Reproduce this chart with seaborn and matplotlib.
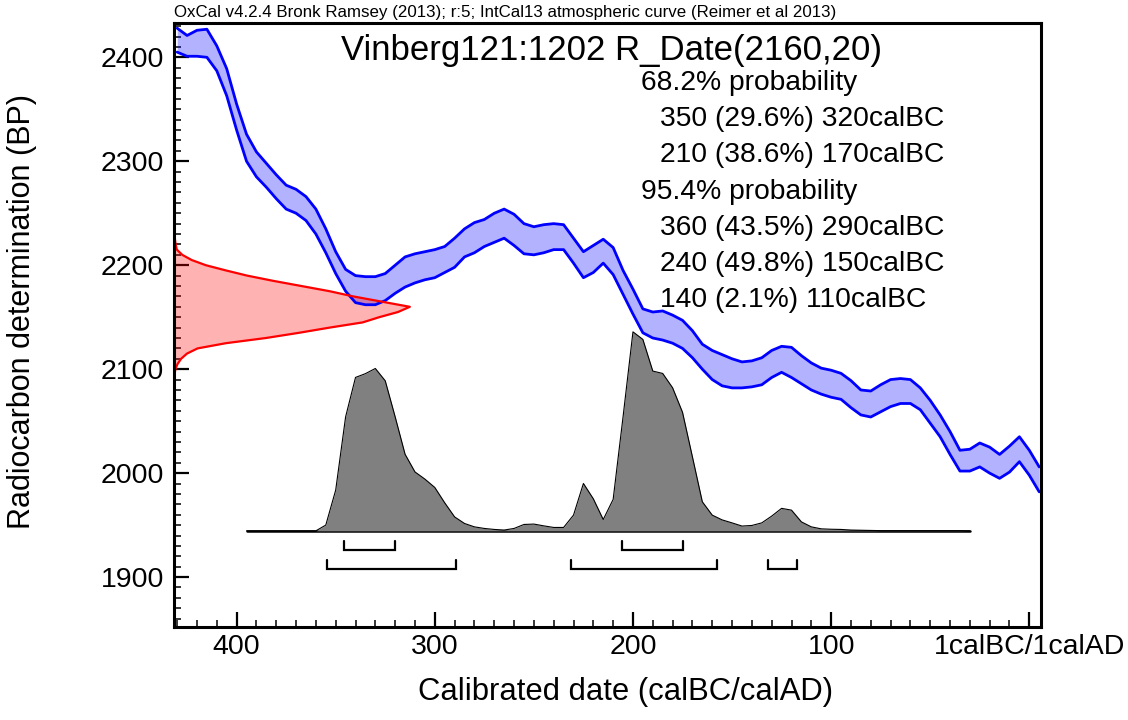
import matplotlib
matplotlib.use("Agg")
import matplotlib.pyplot as plt
from matplotlib.ticker import FixedLocator, MultipleLocator
import seaborn as sns
import pandas as pd

# IntCal13 curve, 1 sigma band (x in calBC years, y in BP)
curve_years = [430, 425, 420, 415, 410, 405, 400, 395, 390, 385, 380, 375, 370, 365, 360,
               355, 350, 345, 340, 335, 330, 325, 320, 315, 310, 305, 300, 295, 290, 285,
               280, 275, 270, 265, 260, 255, 250, 245, 240, 235, 230, 225, 220, 215, 210,
               205, 200, 195, 190, 185, 180, 175, 170, 165, 160, 155, 150, 145, 140, 135,
               130, 125, 120, 115, 110, 105, 100, 95, 90, 85, 80, 75, 70, 65, 60,
               55, 50, 45, 40, 35, 30, 25, 20, 15, 10, 5, 0, -5]
curve_upper = [2428, 2421, 2426, 2427, 2411, 2389, 2355, 2326, 2309, 2298, 2287, 2277, 2273, 2266, 2254,
               2235, 2213, 2196, 2190, 2189, 2189, 2192, 2200, 2208, 2211, 2213, 2215, 2218, 2226, 2235,
               2241, 2244, 2250, 2254, 2249, 2240, 2237, 2239, 2240, 2239, 2226, 2213, 2219, 2225, 2217,
               2195, 2177, 2158, 2155, 2156, 2152, 2147, 2137, 2124, 2118, 2114, 2110, 2107, 2108, 2111,
               2118, 2122, 2121, 2113, 2106, 2101, 2099, 2096, 2089, 2080, 2079, 2085, 2090, 2091, 2090,
               2082, 2070, 2056, 2040, 2022, 2023, 2029, 2025, 2018, 2026, 2035, 2022, 2006]
curve_lower = [2405, 2401, 2401, 2400, 2387, 2363, 2330, 2300, 2285, 2275, 2264, 2254, 2250, 2243, 2230,
               2212, 2192, 2175, 2164, 2162, 2162, 2166, 2173, 2179, 2183, 2186, 2188, 2193, 2198, 2208,
               2212, 2218, 2222, 2226, 2219, 2211, 2210, 2212, 2215, 2215, 2202, 2188, 2193, 2202, 2191,
               2172, 2153, 2135, 2130, 2128, 2125, 2120, 2111, 2100, 2090, 2084, 2082, 2082, 2083, 2085,
               2092, 2097, 2092, 2086, 2080, 2076, 2073, 2071, 2063, 2056, 2054, 2059, 2064, 2067, 2067,
               2061, 2048, 2035, 2018, 2002, 2002, 2006, 2000, 1995, 2001, 2011, 1998, 1982]

# radiocarbon measurement R_Date(2160,20), relative density
date_bp = [2236, 2230, 2225, 2220, 2215, 2210, 2205, 2200, 2195, 2190, 2185, 2180, 2175, 2170, 2165,
           2160, 2155, 2150, 2145, 2140, 2135, 2130, 2125, 2120, 2115, 2110, 2105, 2100, 2095, 2089]
date_density = [0, 0.002, 0.004, 0.007, 0.012, 0.035, 0.075, 0.135, 0.22, 0.31, 0.42, 0.54, 0.66, 0.76, 0.88,
                1.0, 0.95, 0.87, 0.8, 0.66, 0.53, 0.39, 0.22, 0.10, 0.055, 0.03, 0.015, 0.006, 0.002, 0]

# calibrated probability, relative to the highest point
post_years = [395, 390, 385, 380, 375, 370, 365, 360, 355, 350, 345, 340, 335, 330, 325,
              320, 315, 310, 305, 300, 295, 290, 285, 280, 275, 270, 265, 260, 255, 250,
              245, 240, 235, 230, 225, 220, 215, 210, 205, 200, 195, 190, 185, 180, 175,
              170, 165, 160, 155, 150, 145, 140, 135, 130, 125, 120, 115, 110, 105, 100,
              95, 90, 85, 80, 75, 70, 65, 60, 55, 50, 45, 40, 35, 30]
post_prob = [0, 0, 0, 0, 0, 0, 0, 0, 0.029, 0.205, 0.573, 0.771, 0.79, 0.816, 0.754,
             0.573, 0.385, 0.296, 0.26, 0.218, 0.141, 0.07, 0.037, 0.02, 0.012, 0.007, 0.004, 0.012, 0.032, 0.034,
             0.025, 0.017, 0.017, 0.079, 0.238, 0.161, 0.057, 0.158, 0.573, 1.0, 0.962, 0.803, 0.791, 0.719, 0.596,
             0.372, 0.146, 0.079, 0.055, 0.04, 0.024, 0.027, 0.04, 0.074, 0.113, 0.104, 0.045, 0.02, 0.01, 0.008,
             0.007, 0.004, 0.003, 0.002, 0.001, 0.001, 0.001, 0.001, 0.001, 0.001, 0.001, 0.001, 0.001, 0]

# ranges drawn as brackets (calBC)
range68 = [(346, 320), (205.5, 174.5)]
range95 = [(354.5, 289.5), (231.5, 157.5), (132, 117)]

header = "OxCal v4.2.4 Bronk Ramsey (2013); r:5; IntCal13 atmospheric curve (Reimer et al 2013)"
title = "Vinberg121:1202 R_Date(2160,20)"
summary_heads = ["68.2% probability", "95.4% probability"]
summary68 = ["350 (29.6%) 320calBC", "210 (38.6%) 170calBC"]
summary95 = ["360 (43.5%) 290calBC", "240 (49.8%) 150calBC", "140 (2.1%) 110calBC"]

x_ticks = [400, 300, 200, 100, 0]
x_ticklabels = ["400", "300", "200", "100", "1calBC/1calAD"]

X_LEFT, X_RIGHT = 431.6, -5.9
Y_LOW, Y_HIGH = 1852, 2433
RED_WIDTH = 119      # years spanned by the peak of the measurement curve
BASE = 1944.5        # baseline of the calibrated distribution
SCALE = 191.4        # height of its highest point

sns.set_theme(style="white", rc={"text.color": "black", "axes.labelcolor": "black",
                                 "xtick.color": "black", "ytick.color": "black",
                                 "axes.edgecolor": "black"})
plt.rcParams['font.family'] = ['Liberation Sans', 'DejaVu Sans']

fig = plt.figure(figsize=(11.28, 7.2), dpi=100)
ax = fig.add_axes([174 / 1128, 1 - 627 / 720, 867 / 1128, 604 / 720])

curve = pd.DataFrame({"year": curve_years, "upper": curve_upper, "lower": curve_lower})
ax.fill_between(curve["year"], curve["lower"], curve["upper"], color="blue", alpha=0.3, lw=0)
sns.lineplot(data=curve, x="year", y="upper", color="blue", lw=2, ax=ax, estimator=None, sort=False)
sns.lineplot(data=curve, x="year", y="lower", color="blue", lw=2, ax=ax, estimator=None, sort=False)

date = pd.DataFrame({"bp": date_bp, "dens": date_density})
date["x"] = X_LEFT - date["dens"] * RED_WIDTH
ax.fill_betweenx(date["bp"], X_LEFT, date["x"], color="red", alpha=0.3, lw=0)
sns.lineplot(data=date, x="x", y="bp", color="red", lw=1.6, ax=ax, estimator=None, sort=False)

post = pd.DataFrame({"year": post_years, "p": post_prob})
post["y"] = BASE + post["p"] * SCALE
ax.plot([post_years[0], post_years[-1]], [BASE, BASE], color="black", lw=1.8, zorder=2)
ax.fill_between(post["year"], BASE, post["y"], color="#808080", lw=0, zorder=3)
sns.lineplot(data=post, x="year", y="y", color="black", lw=0.8, ax=ax, estimator=None, sort=False, zorder=4)

for ranges, row in [(range68, 1926), (range95, 1907.5)]:
    for a, b in ranges:
        ax.plot([a, a, b, b], [row + 9, row, row, row + 9], color="black", lw=1.6,
                solid_joinstyle="miter")

ax.set_xlim(X_LEFT, X_RIGHT)
ax.set_ylim(Y_LOW, Y_HIGH)
ax.xaxis.set_major_locator(FixedLocator(x_ticks))
ax.set_xticklabels(x_ticklabels)
ax.xaxis.set_minor_locator(MultipleLocator(10))
ax.yaxis.set_major_locator(MultipleLocator(100))
ax.yaxis.set_minor_locator(MultipleLocator(10))
ax.tick_params(which="both", direction="in", bottom=True, left=True, top=False, right=False,
               labelsize=20.5)
ax.tick_params(which="major", length=11, width=1.6)
ax.tick_params(which="minor", length=5, width=1.1)
ax.tick_params(axis="x", pad=5)
ax.tick_params(axis="y", pad=7)
for s in ax.spines.values():
    s.set_linewidth(2.2)
    s.set_color("black")

ax.set_xlabel("Calibrated date (calBC/calAD)", fontsize=22.3)
ax.set_ylabel("Radiocarbon determination (BP)", fontsize=22)
ax.xaxis.set_label_coords(0.521, -0.083)
ax.yaxis.set_label_coords(-0.158, 0.523)

fig.text(174 / 1128, 1 - 13 / 720, header, fontsize=12.2, ha="left", va="center")
ax.text(0.505, 0.955, title, fontsize=25, ha="center", va="center", transform=ax.transAxes)

lines = [(summary_heads[0], 0)] + [(s, 1) for s in summary68] + \
        [(summary_heads[1], 0)] + [(s, 1) for s in summary95]
for i, (txt, indent) in enumerate(lines):
    ax.text(0.5386 + indent * 0.0215, 0.9003 - i * 0.0598, txt, fontsize=20.3,
            ha="left", va="center", transform=ax.transAxes)

fig.savefig("out.png", dpi=100)
